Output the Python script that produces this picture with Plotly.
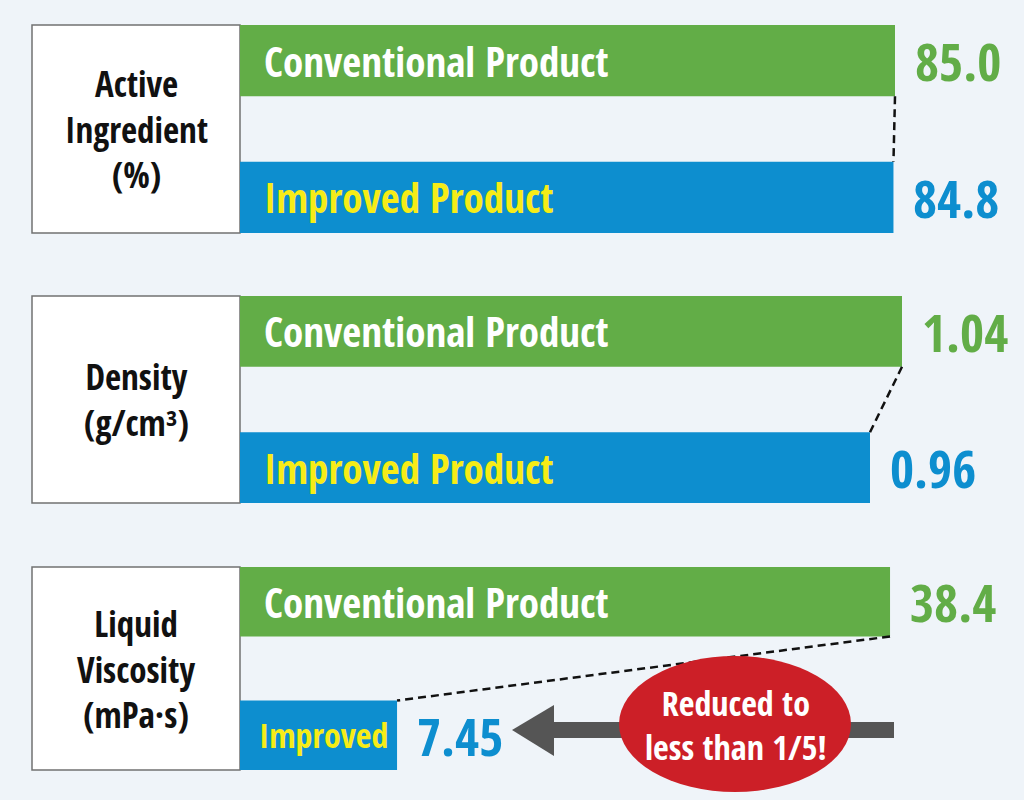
import plotly.graph_objects as go

metric_labels = ["Active<br>Ingredient<br>(%)", "Density<br>(g/cm³)", "Liquid<br>Viscosity<br>(mPa·s)"]
products = ["Conventional Product", "Improved Product"]
conventional = [85.0, 1.04, 38.4]
improved = [84.8, 0.96, 7.45]
conv_text = ["85.0", "1.04", "38.4"]
imp_text = ["84.8", "0.96", "7.45"]
improved_labels = ["Improved Product", "Improved Product", "Improved"]
callout = "Reduced to<br>less than 1/5!"

# Look
W, H = 1024, 800
FONT = "Noto Sans Condensed, Open Sans Condensed, Roboto Condensed, Roboto, sans-serif"
GREEN = "#62ad47"
BLUE = "#0d8ecf"
YELLOW = "#f6ec17"
RED = "#cc1f27"
GREY = "#555555"
BG = "#eff4f9"

panel_px = [(25, 233), (296, 503), (567, 770)]   # top / bottom of each panel in pixels
axis_start = [0, -0.615, -2.41]                  # truncated x axes (infographic scale)
axis_end = [101.74, 1.345, 46.81]
BAR_W = 0.52


def px_x(x):
    return x / W


def px_y(y):
    return 1 - y / H


fig = go.Figure()
shapes = []
annotations = []

for i in range(3):
    n = "" if i == 0 else str(i + 1)
    top, bot = panel_px[i]
    b = axis_start[i]

    fig.add_trace(go.Bar(
        y=[products[1], products[0]],
        x=[improved[i] - b, conventional[i] - b],
        base=b, orientation="h", width=BAR_W,
        marker=dict(color=[BLUE, GREEN], line=dict(width=0)),
        xaxis="x" + n, yaxis="y" + n, showlegend=False, hoverinfo="skip",
    ))

    fig.update_layout(**{
        "xaxis" + n: dict(domain=[px_x(240), 1], range=[b, axis_end[i]], visible=False, fixedrange=True),
        "yaxis" + n: dict(domain=[px_y(bot), px_y(top)], range=[-0.26, 1.26], visible=False, fixedrange=True,
                          type="category", categoryorder="array", categoryarray=[products[1], products[0]],
                          anchor="x" + n),
    })

    # label box on the left
    shapes.append(dict(type="rect", xref="paper", yref="paper", x0=px_x(32), x1=px_x(240),
                       y0=px_y(bot), y1=px_y(top), fillcolor="white",
                       line=dict(color="#727272", width=1.5), layer="below"))
    annotations.append(dict(xref="paper", yref="paper", x=px_x(136), y=px_y((top + bot) / 2),
                            text="<b>" + metric_labels[i] + "</b>", showarrow=False,
                            xanchor="center", yanchor="middle", align="center",
                            font=dict(family=FONT, size=35, color="#111111")))

    # dashed connector between bar ends
    shapes.append(dict(type="line", xref="x" + n, yref="y" + n,
                       x0=conventional[i], y0=1 - BAR_W / 2, x1=improved[i], y1=BAR_W / 2,
                       line=dict(color="#111111", width=2.5, dash="8px,5px")))

    # text inside bars
    annotations.append(dict(xref="x" + n, yref="y" + n, x=b, y=products[0], xshift=22,
                            text="<b>" + products[0] + "</b>", showarrow=False, xanchor="left", yanchor="middle",
                            font=dict(family=FONT, size=41, color="white")))
    short = len(improved_labels[i]) < 12
    annotations.append(dict(xref="x" + n, yref="y" + n, x=b, y=products[1], xshift=17 if short else 22,
                            text="<b>" + improved_labels[i] + "</b>", showarrow=False, xanchor="left",
                            yanchor="middle",
                            font=dict(family=FONT, size=34 if short else 41, color=YELLOW)))

    # values at bar ends
    annotations.append(dict(xref="x" + n, yref="y" + n, x=conventional[i], y=products[0], xshift=18,
                            text="<b>" + conv_text[i] + "</b>", showarrow=False, xanchor="left", yanchor="middle",
                            font=dict(family=FONT, size=52, color=GREEN)))
    annotations.append(dict(xref="x" + n, yref="y" + n, x=improved[i], y=products[1], xshift=18,
                            text="<b>" + imp_text[i] + "</b>", showarrow=False, xanchor="left", yanchor="middle",
                            font=dict(family=FONT, size=52, color=BLUE)))

# grey arrow pointing back at the improved value, with the red call-out on top
shapes.append(dict(type="rect", xref="paper", yref="paper", x0=px_x(550), x1=px_x(894),
                   y0=px_y(738), y1=px_y(722), fillcolor=GREY, line=dict(width=0)))
shapes.append(dict(type="path", xref="paper", yref="paper",
                   path="M %f,%f L %f,%f L %f,%f Z" % (px_x(512), px_y(730), px_x(554), px_y(705),
                                                       px_x(554), px_y(756)),
                   fillcolor=GREY, line=dict(width=0)))
shapes.append(dict(type="circle", xref="paper", yref="paper", x0=px_x(619), x1=px_x(851),
                   y0=px_y(792), y1=px_y(656), fillcolor=RED, line=dict(width=0)))
annotations.append(dict(xref="paper", yref="paper", x=px_x(736), y=px_y(725), text="<b>" + callout + "</b>",
                        showarrow=False, xanchor="center", yanchor="middle", align="center",
                        font=dict(family=FONT, size=34, color="white")))

fig.update_layout(
    width=W, height=H,
    margin=dict(l=0, r=0, t=0, b=0),
    paper_bgcolor=BG, plot_bgcolor="rgba(0,0,0,0)",
    barmode="overlay",
    shapes=shapes, annotations=annotations,
)

fig.write_html("out.html", config={"displayModeBar": False},
               post_script="document.body.style.margin='0';")
